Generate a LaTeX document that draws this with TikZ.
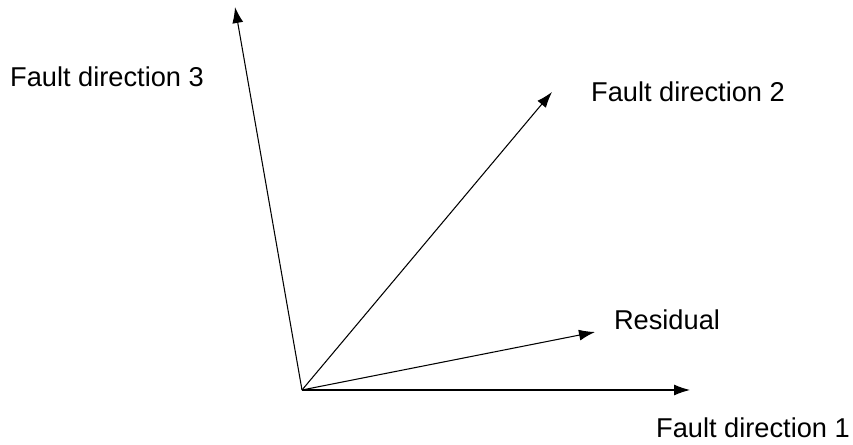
\documentclass[tikz,border=0pt]{standalone}
\usepackage{fontspec}
\setmainfont{Liberation Sans}
\usetikzlibrary{arrows.meta}

\begin{document}
\begin{tikzpicture}[
    x=0.02cm, y=-0.02cm,
    dirvec/.style   ={-{Latex[length=3.2mm, width=2.2mm]}, line width=0.6pt, black},
    dirlabel/.style ={font=\fontsize{15.5}{18}\selectfont, inner sep=0pt}
]

% ---------- frame (pixel units, y down) ----------
\useasboundingbox (0,0) rectangle (853,445);

% ---------- origin and arrow tips ----------
\coordinate (O)  at (302,390);
\coordinate (F1) at (690,390);
\coordinate (R)  at (595,332);
\coordinate (F2) at (552,92);
\coordinate (F3) at (235,7);

% ---------- labels ----------
\node[dirlabel] (F1lab) at (753,428) {Fault direction 1};
\node[dirlabel] (Rlab)  at (667,320) {Residual};
\node[dirlabel] (F2lab) at (688,92)  {Fault direction 2};
\node[dirlabel] (F3lab) at (107,77)  {Fault direction 3};

% ---------- direction vectors ----------
\draw[dirvec] (O) -- (F1);
\draw[dirvec] (O) -- (R);
\draw[dirvec] (O) -- (F2);
\draw[dirvec] (O) -- (F3);

\end{tikzpicture}
\end{document}
